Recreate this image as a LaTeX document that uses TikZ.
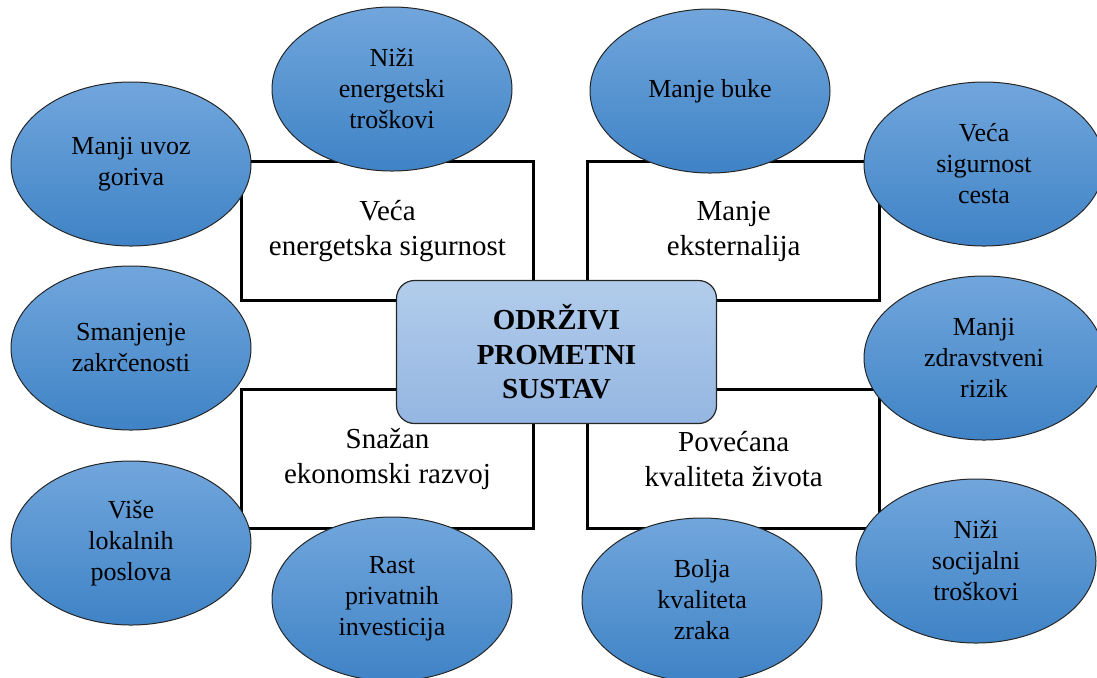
\documentclass[tikz,border=0pt]{standalone}
\usepackage{fontspec}
\setmainfont{Liberation Serif}
\usepackage{tikz}
\usetikzlibrary{positioning, shapes.geometric}
\definecolor{ellTop}{RGB}{113,166,220}
\definecolor{ellMid}{RGB}{84,151,216}
\definecolor{ellBot}{RGB}{63,131,198}
\definecolor{coreTop}{RGB}{178,204,235}
\definecolor{coreBot}{RGB}{148,182,226}
\tikzset{
box/.style={
  draw,
  rectangle,
  line width=1.6pt,
  fill=white,
  minimum width=146pt,
  minimum height=69.5pt, align=center,
  font=\fontsize{14.5}{17.5}\selectfont
  },
core/.style={
  draw=black!85,
  line width=0.6pt,
  rounded corners=9pt,
  top color=coreTop, bottom color=coreBot,
  minimum width=160pt,
  minimum height=71.5pt, align=center,
  font=\bfseries\fontsize{14.5}{17.25}\selectfont
  },
goal/.style={
  ellipse,
  draw=black!85,
  line width=0.5pt,
  top color=ellTop, middle color=ellMid, bottom color=ellBot,
  minimum width=120pt,
  minimum height=82pt, inner sep=0pt, align=center,
  font=\fontsize{13}{15.5}\selectfont
  }
}

\begin{document}
\begin{tikzpicture}[x=0.5pt, y=-0.5pt, node distance=25.5pt]
\useasboundingbox (0,0) rectangle (1097,677);

\node[box]	(enersig)	at (387.5,231)							{Veća \\ energetska sigurnost};
\node[box]	(eksternal)	[right=of enersig]						{Manje \\ eksternalija};
\node[box]	(ekonom)	[below=43pt of enersig]					{Snažan \\ ekonomski razvoj};
\node[box]	(zivot)		[right=of ekonom]						{Povećana \\ kvaliteta života};

\node[core]	(sustav)	at (556.5,352)							{ODRŽIVI \\ PROMETNI \\ SUSTAV};

\node[goal]	(uvoz)		at (131,164)							{Manji uvoz \\ goriva};
\node[goal]	(troskovi)	at (392,89)								{Niži \\ energetski \\ troškovi};
\node[goal]	(buka)		at (710,91)								{Manje buke};
\node[goal]	(ceste)		at (984,164)							{Veća \\ sigurnost \\ cesta};
\node[goal]	(zakrcenost)	at (131,348)						{Smanjenje \\ zakrčenosti};
\node[goal]	(zdravlje)	at (984,358)							{Manji \\ zdravstveni \\ rizik};
\node[goal]	(poslovi)	at (131,543)							{Više \\ lokalnih \\ poslova};
\node[goal]	(investicije)	at (392,599)						{Rast \\ privatnih \\ investicija};
\node[goal]	(zrak)		at (702,600)							{Bolja \\ kvaliteta \\ zraka};
\node[goal]	(socijalni)	at (976,561)							{Niži \\ socijalni \\ troškovi};
\end{tikzpicture}
\end{document}
